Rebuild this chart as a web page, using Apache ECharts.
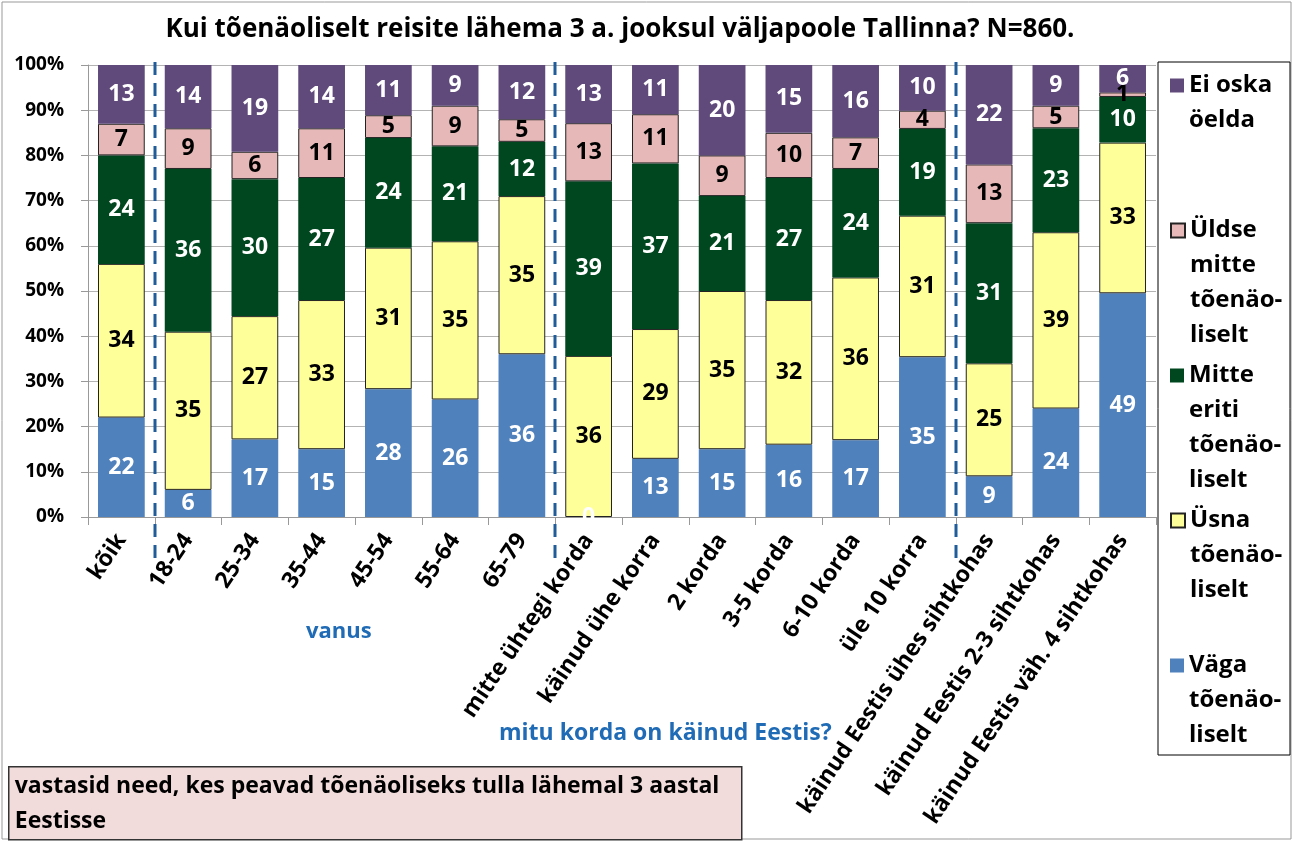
<!DOCTYPE html>
<html>
<head>
<meta charset="utf-8">
<script src="https://cdn.jsdelivr.net/npm/echarts@6/dist/echarts.min.js"></script>
<style>
html, body { margin: 0; padding: 0; background: #fff; }
#chart { width: 1293px; height: 841px; }
</style>
</head>
<body>
<div id="chart"></div>
<script>
var categories = ['kõik', '18-24', '25-34', '35-44', '45-54', '55-64', '65-79',
    'mitte ühtegi korda', 'käinud ühe korra', '2 korda', '3-5 korda', '6-10 korda', 'üle 10 korra',
    'käinud Eestis ühes sihtkohas', 'käinud Eestis 2-3 sihtkohas', 'käinud Eestis väh. 4 sihtkohas'];
var vaga       = [22, 6, 17, 15, 28, 26, 36, 0, 13, 15, 16, 17, 35, 9, 24, 49];
var usna       = [34, 35, 27, 33, 31, 35, 35, 36, 29, 35, 32, 36, 31, 25, 39, 33];
var mitteEriti = [24, 36, 30, 27, 24, 21, 12, 39, 37, 21, 27, 24, 19, 31, 23, 10];
var uldseMitte = [7, 9, 6, 11, 5, 9, 5, 13, 11, 9, 10, 7, 4, 13, 5, 1];
var eiOska     = [13, 14, 19, 14, 11, 9, 12, 13, 11, 20, 15, 16, 10, 22, 9, 6];
var yTicks = [0, 10, 20, 30, 40, 50, 60, 70, 80, 90, 100];
// group separators come after these category indexes
var separatorsAfter = [0, 6, 12];

var seriesNames = ['Väga tõenäoliselt', 'Üsna tõenäoliselt', 'Mitte eriti tõenäoliselt',
    'Üldse mitte tõenäoliselt', 'Ei oska öelda'];
var legendLabels = ['Väga\ntõenäo-\nliselt', 'Üsna\ntõenäo-\nliselt', 'Mitte\neriti\ntõenäo-\nliselt',
    'Üldse\nmitte\ntõenäo-\nliselt', 'Ei oska\nöelda'];
var allValues = [vaga, usna, mitteEriti, uldseMitte, eiOska];

var FONT = '"Open Sans"';
var colors = ['#4F81BD', '#FFFF99', '#00461F', '#E6B9B8', '#604A7B'];
var labelColors = ['#fff', '#000', '#fff', '#000', '#fff'];
var borders = [null, '#222', null, '#222', null];

// 100% stacked: scale each column to its own total, labels keep the raw number
var totals = categories.map(function (c, i) {
    return allValues.reduce(function (s, arr) { return s + arr[i]; }, 0);
});

var series = allValues.map(function (arr, k) {
    return {
        name: seriesNames[k],
        type: 'bar',
        stack: 'all',
        barCategoryGap: '30%',
        data: arr.map(function (v, i) {
            return { value: v / totals[i] * 100, raw: v };
        }),
        itemStyle: {
            color: colors[k],
            borderColor: borders[k] || colors[k],
            borderWidth: borders[k] ? 1 : 0
        },
        label: {
            show: true,
            position: 'inside',
            color: labelColors[k],
            fontFamily: FONT,
            fontWeight: 'bold',
            fontSize: 23,
            formatter: function (p) { return p.data.raw; }
        }
    };
});

// legend: one block per series; blank lines above keep the icon on the first text line
var LH = 35;
var legendTops = [85, 230, 375, 520, 665].reverse();
var legends = seriesNames.map(function (name, k) {
    var lines = legendLabels[k].split('\n').length;
    var pad = new Array(lines).join(' \n');
    return {
        data: [name],
        left: 1170,
        top: Math.round(legendTops[k] - (2 * lines - 1) * LH / 2),
        orient: 'vertical',
        padding: 0,
        itemWidth: 14,
        itemHeight: 14,
        icon: 'rect',
        selectedMode: false,
        formatter: function () { return pad + legendLabels[k]; },
        textStyle: {
            fontFamily: FONT,
            fontWeight: 'bold',
            fontSize: 24,
            color: '#000',
            lineHeight: LH
        }
    };
});

var chart = echarts.init(document.getElementById('chart'));
chart.setOption({
    animation: false,
    title: {
        text: 'Kui tõenäoliselt reisite lähema 3 a. jooksul väljapoole Tallinna? N=860.',
        left: 615,
        textAlign: 'center',
        top: 12,
        textStyle: { fontFamily: FONT, fontWeight: 'bold', fontSize: 26, color: '#000' }
    },
    legend: legends,
    grid: { left: 88, right: 137, top: 65, bottom: 324 },
    xAxis: {
        type: 'category',
        data: categories,
        axisLine: { lineStyle: { color: '#999' } },
        axisTick: { show: true, length: 8, lineStyle: { color: '#999' } },
        axisLabel: {
            rotate: 56,
            interval: 0,
            margin: 19,
            fontFamily: FONT,
            fontWeight: 'bold',
            fontSize: 23,
            color: '#000'
        }
    },
    yAxis: {
        type: 'value',
        min: yTicks[0],
        max: yTicks[yTicks.length - 1],
        interval: 10,
        axisLine: { show: true, lineStyle: { color: '#999' } },
        axisTick: { show: true, inside: false, length: 7, lineStyle: { color: '#999' } },
        splitLine: { lineStyle: { color: '#b3b3b3' } },
        axisLabel: {
            formatter: '{value}%',
            margin: 24,
            fontFamily: FONT,
            fontWeight: 'bold',
            fontSize: 19,
            color: '#000'
        }
    },
    series: series
});

// dashed group separators, frames, notes
var graphics = [];
separatorsAfter.forEach(function (i) {
    var x1 = chart.convertToPixel({ xAxisIndex: 0 }, categories[i]);
    var x2 = chart.convertToPixel({ xAxisIndex: 0 }, categories[i + 1]);
    var x = Math.round((x1 + x2) / 2);
    graphics.push({
        type: 'line',
        z: 10,
        shape: { x1: x, y1: 62, x2: x, y2: 566 },
        style: { stroke: '#1F5C99', lineWidth: 3, lineDash: [13, 8] }
    });
});
graphics.push({
    type: 'rect',
    shape: { x: 2, y: 2, width: 1289, height: 837 },
    style: { fill: null, stroke: '#999', lineWidth: 1 },
    silent: true
});
graphics.push({
    type: 'rect',
    shape: { x: 1158, y: 62, width: 132, height: 693 },
    style: { fill: null, stroke: '#000', lineWidth: 1 },
    silent: true
});
graphics.push({
    type: 'text',
    left: 306,
    top: 621,
    style: { text: 'vanus', fill: '#1F6BB5', font: 'bold 22px ' + FONT }
});
graphics.push({
    type: 'text',
    left: 499,
    top: 722,
    style: { text: 'mitu korda on käinud Eestis?', fill: '#1F6BB5', font: 'bold 23px ' + FONT }
});
graphics.push({
    type: 'group',
    left: 8,
    top: 766,
    children: [
        {
            type: 'rect',
            shape: { x: 0, y: 0, width: 733, height: 73 },
            style: { fill: '#F2DCDB', stroke: '#333', lineWidth: 1.5 }
        },
        {
            type: 'text',
            x: 6,
            y: 2,
            style: {
                text: 'vastasid need, kes peavad tõenäoliseks tulla lähemal 3 aastal\nEestisse',
                fill: '#000',
                font: 'bold 23px ' + FONT,
                lineHeight: 35
            }
        }
    ]
});
chart.setOption({ graphic: graphics });
</script>
</body>
</html>
